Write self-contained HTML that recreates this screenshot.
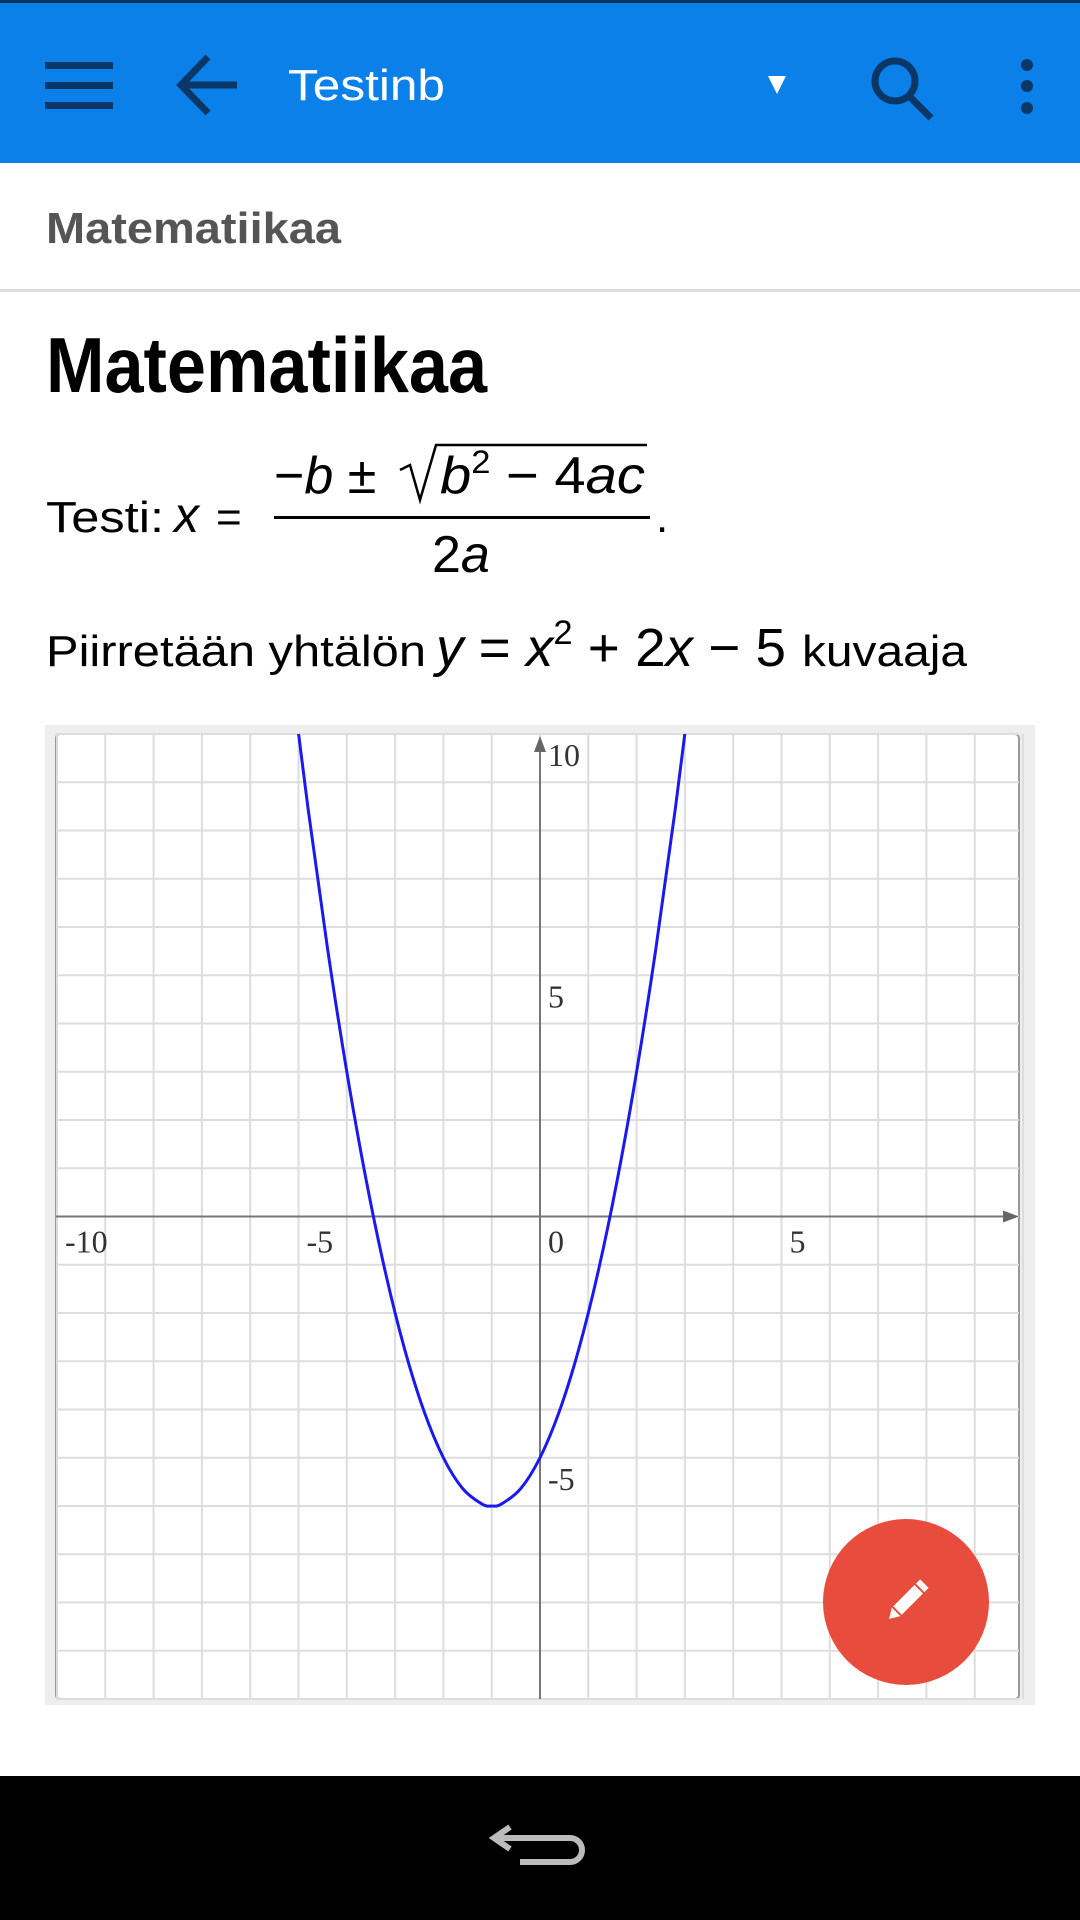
<!DOCTYPE html>
<html><head><meta charset="utf-8"><style>
html,body{margin:0;padding:0;background:#fff;width:1080px;height:1920px;overflow:hidden}
svg{display:block}
</style></head><body>
<svg width="1080" height="1920" viewBox="0 0 1080 1920" xmlns="http://www.w3.org/2000/svg" font-family="Liberation Sans, sans-serif">
<g>
<rect x="0" y="0" width="1080" height="163" fill="#0b80e9"/>
<rect x="0" y="0" width="1080" height="3" fill="#0a3560"/>
<g fill="#0b3766">
<rect x="45" y="62" width="68" height="7"/><rect x="45" y="82" width="68" height="7"/><rect x="45" y="102" width="68" height="7"/></g>
<g stroke="#0b3766" stroke-width="7" fill="none">
<path d="M237 85 H181 M208 57 L181 85 L208 113"/></g>
<text x="288" y="100" font-size="44" fill="#fff" textLength="157" lengthAdjust="spacingAndGlyphs">Testinb</text>
<path d="M768 76 L786 76 L777 94 Z" fill="#fff"/>
<g stroke="#0b3766" stroke-width="7" fill="none">
<circle cx="895" cy="81" r="20"/><path d="M909 96 L931 118"/></g>
<g fill="#0b3766">
<circle cx="1027" cy="65" r="6"/><circle cx="1027" cy="86" r="6"/><circle cx="1027" cy="108" r="6"/></g>
</g>
<text x="46" y="243" font-size="44" font-weight="bold" fill="#555" textLength="295" lengthAdjust="spacingAndGlyphs">Matematiikaa</text>
<rect x="0" y="289" width="1080" height="3" fill="#ddd"/>
<text x="46" y="392" font-size="78" font-weight="bold" fill="#000" textLength="441" lengthAdjust="spacingAndGlyphs">Matematiikaa</text>
<g fill="#000">
<text x="46" y="532" font-size="44" textLength="118" lengthAdjust="spacingAndGlyphs">Testi:</text>
<text x="174" y="532" font-size="50" font-style="italic">x</text>
<text x="216" y="532" font-size="44">=</text>
<text x="274" y="493" font-size="52"><tspan>−</tspan><tspan font-style="italic">b</tspan> ±</text>
<path d="M400 470 L410 465 L420 500 L436 445 L647 445" stroke="#000" stroke-width="2.5" fill="none"/>
<text x="440" y="493" font-size="52" textLength="205" lengthAdjust="spacingAndGlyphs"><tspan font-style="italic">b</tspan><tspan font-size="32" dy="-20">2</tspan><tspan dy="20"> − 4</tspan><tspan font-style="italic">ac</tspan></text>
<rect x="274" y="516" width="376" height="3"/>
<text x="432" y="572" font-size="52">2<tspan font-style="italic">a</tspan></text>
<text x="656" y="532" font-size="44">.</text>
</g>
<g fill="#000">
<text x="46" y="666" font-size="44" textLength="380" lengthAdjust="spacingAndGlyphs">Piirretään yhtälön</text>
<text x="436" y="666" font-size="54" textLength="350" lengthAdjust="spacingAndGlyphs"><tspan font-style="italic">y</tspan> = <tspan font-style="italic">x</tspan><tspan font-size="34" dy="-22">2</tspan><tspan dy="22"> + 2</tspan><tspan font-style="italic">x</tspan> − 5</text>
<text x="802" y="666" font-size="44" textLength="165" lengthAdjust="spacingAndGlyphs">kuvaaja</text>
</g>
<g id="chart">
<rect x="45" y="725" width="990" height="980" fill="#eee"/>
<rect x="56" y="734" width="963" height="965" fill="#fff" stroke="#999" stroke-width="2" rx="4"/>
<g id="grid"></g>
<g id="axes"></g>
<g id="ticks" font-family="Liberation Serif, serif" font-size="32" fill="#333"></g>
<clipPath id="clip"><rect x="56" y="734" width="963" height="965"/></clipPath>
<path id="curve" fill="none" stroke="#1a1aee" stroke-width="3" clip-path="url(#clip)"/>
</g>
<g>
<circle cx="906" cy="1602" r="83" fill="#e84c3d"/>
<g transform="translate(906,1602) rotate(45)" fill="#fff">
<rect x="-6" y="-18" width="12" height="30"/><path d="M-6 14 L6 14 L0 24 Z"/><rect x="-6" y="-26" width="12" height="6"/>
</g></g>
<g>
<rect x="0" y="1776" width="1080" height="144" fill="#000"/>
<path d="M510 1827 L494 1838 L510 1849 M494 1838 H570 a12 12 0 0 1 0 24 H520" stroke="#bbb" stroke-width="6" fill="none"/>
</g>
</svg>
<script>
const xDomain=[-10,10];
const yDomain=[-10,10];
const xTickValues=[-10,-5,0,5];
const xTickLabels=["-10","-5","0","5"];
const yTickValues=[10,5,-5];
const yTickLabels=["10","5","-5"];
const curveX=[-5.2,-4.8,-4.4,-4.0,-3.6,-3.2,-2.8,-2.4,-2.0,-1.6,-1.2,-1.0,-0.8,-0.4,0,0.4,0.8,1.2,1.6,2.0,2.4,2.8,3.2];
const curveY=[11.64,8.44,5.56,3,0.76,-1.16,-2.76,-4.04,-5,-5.64,-5.96,-6,-5.96,-5.64,-5,-4.04,-2.76,-1.16,0.76,3,5.56,8.44,11.64];
const L=57,R=1023,T=734,B=1699;
const sx=v=>L+(v-xDomain[0])/(xDomain[1]-xDomain[0])*(R-L);
const sy=v=>T+(yDomain[1]-v)/(yDomain[1]-yDomain[0])*(B-T);
const NS="http://www.w3.org/2000/svg";
const grid=document.getElementById('grid');
for(let v=xDomain[0];v<=xDomain[1];v++){
 const l=document.createElementNS(NS,'line');
 
 
 l.setAttribute('x1',sx(v));l.setAttribute('x2',sx(v));l.setAttribute('y1',T);l.setAttribute('y2',B);
 l.setAttribute('stroke','#ddd');l.setAttribute('stroke-width','2');grid.appendChild(l);
}
for(let v=yDomain[0];v<=yDomain[1];v++){
 const l=document.createElementNS(NS,'line');
 
 
 l.setAttribute('y1',sy(v));l.setAttribute('y2',sy(v));l.setAttribute('x1',56);l.setAttribute('x2',1019);
 l.setAttribute('stroke','#ddd');l.setAttribute('stroke-width','2');grid.appendChild(l);
}
const axes=document.getElementById('axes');
axes.innerHTML='<line x1="56" x2="1005" y1="'+sy(0)+'" y2="'+sy(0)+'" stroke="#777" stroke-width="2"/>'+
'<path d="M1003 '+(sy(0)-6)+' L1019 '+sy(0)+' L1003 '+(sy(0)+6)+' Z" fill="#666"/>'+
'<line x1="'+sx(0)+'" x2="'+sx(0)+'" y1="750" y2="1699" stroke="#777" stroke-width="2"/>'+
'<path d="M'+(sx(0)-6)+' 752 L'+sx(0)+' 736 L'+(sx(0)+6)+' 752 Z" fill="#666"/>';
const ticks=document.getElementById('ticks');
xTickValues.forEach((v,i)=>{
 const t=document.createElementNS(NS,'text');
 
 
 t.setAttribute('x',sx(v)+8);t.setAttribute('y',sy(0)+36);t.textContent=xTickLabels[i];ticks.appendChild(t);
});
yTickValues.forEach((v,i)=>{
 const t=document.createElementNS(NS,'text');
 
 
 t.setAttribute('x',sx(0)+8);t.setAttribute('y',sy(v)+32);t.textContent=yTickLabels[i];ticks.appendChild(t);
});
const pts=curveX.map((x,i)=>[sx(x),sy(curveY[i])]);
let d='M'+pts[0][0]+' '+pts[0][1];
for(let i=0;i<pts.length-1;i++){
 const p0=pts[Math.max(0,i-1)],p1=pts[i],p2=pts[i+1],p3=pts[Math.min(pts.length-1,i+2)];
 const c1=[p1[0]+(p2[0]-p0[0])/6,p1[1]+(p2[1]-p0[1])/6];
 const c2=[p2[0]-(p3[0]-p1[0])/6,p2[1]-(p3[1]-p1[1])/6];
 d+=' C'+c1[0]+' '+c1[1]+' '+c2[0]+' '+c2[1]+' '+p2[0]+' '+p2[1];
}
document.getElementById('curve').setAttribute('d',d);
</script>
</body></html>
